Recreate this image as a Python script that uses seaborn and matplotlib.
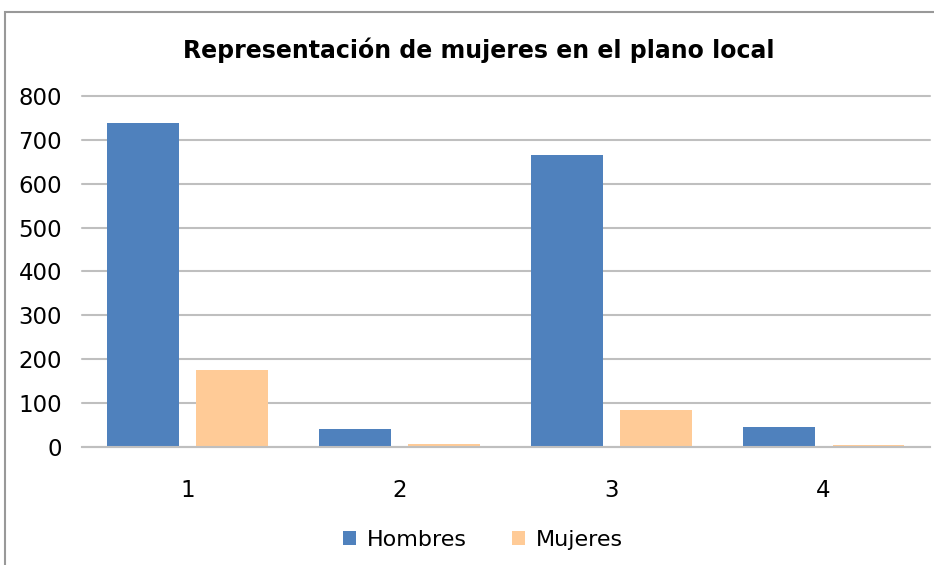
import pandas as pd
import matplotlib.pyplot as plt
import seaborn as sns
from matplotlib.patches import Rectangle

# data
categorias = ["1", "2", "3", "4"]
hombres = [738, 41, 665, 46]
mujeres = [175, 6, 84, 5]
series = ["Hombres", "Mujeres"]
colores = ["#4F81BD", "#FFCB97"]

df = pd.DataFrame({
    "grupo": categorias * 2,
    "valor": hombres + mujeres,
    "serie": [series[0]] * 4 + [series[1]] * 4,
})

sns.set_theme(style="white")
plt.rcParams["font.family"] = ["DejaVu Sans"]
plt.rcParams["text.color"] = "black"

fig = plt.figure(figsize=(9.34, 5.65), dpi=100)
ax = fig.add_axes([0.0873, 0.209, 0.908, 0.621])

sns.barplot(data=df, x="grupo", y="valor", hue="serie", palette=colores,
            width=0.84, gap=0.2, saturation=1, linewidth=0, ax=ax, legend=True)

ax.set_xlim(-0.5, 3.5)
ax.set_ylim(0, 800)
ax.set_yticks(range(0, 801, 100))
ax.yaxis.grid(True, color="#BFBFBF", linewidth=1.5)
for gl in ax.get_ygridlines():
    gl.set_clip_on(False)
ax.set_axisbelow(True)
for s in ["left", "right", "top"]:
    ax.spines[s].set_visible(False)
ax.spines["bottom"].set_color("#BFBFBF")
ax.spines["bottom"].set_linewidth(1.5)
ax.tick_params(axis="both", length=0, labelsize=16.5, colors="black")
ax.tick_params(axis="y", pad=14)
ax.tick_params(axis="x", pad=23)
ax.set_xlabel("")
ax.set_ylabel("")

fig.text(479 / 934, 1 - 50 / 565, "Representación de mujeres en el plano local",
         fontsize=17, fontweight="bold", ha="center", va="center")

handles, labels = ax.get_legend_handles_labels()
ax.get_legend().remove()
fig.legend(handles, labels, loc="center", bbox_to_anchor=(483 / 934, 1 - 540 / 565),
           ncol=2, frameon=False, fontsize=16, handlelength=0.6, handleheight=0.6,
           columnspacing=2.0, handletextpad=0.5)

# outer chart frame (top and left edges visible)
fig.patches.append(Rectangle((0.005, -0.1), 1.2, 1.078, transform=fig.transFigure,
                             fill=False, edgecolor="#999999", linewidth=1.5))

fig.savefig("out.png", dpi=100)
